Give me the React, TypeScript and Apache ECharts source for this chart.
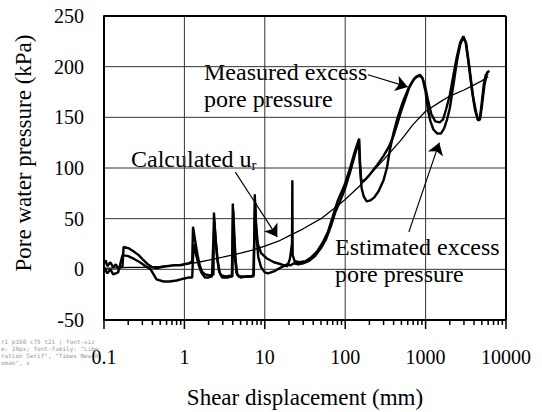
import React, { useEffect, useRef } from 'react';
import * as echarts from 'echarts';

const FONT = 'Liberation Serif, Times New Roman, serif';

// Plot area (pixels) and axis ranges
const GRID = { left: 104, top: 16, width: 402, height: 304 };
const X_MIN = 0.1;
const X_MAX = 10000;
const Y_MIN = -50;
const Y_MAX = 250;

const xTickLabels = ['0.1', '1', '10', '100', '1000', '10000'];
const xTickValues = [0.1, 1, 10, 100, 1000, 10000];
const xMinorTickValues = [
  0.2, 0.3, 0.4, 0.5, 0.6, 0.7, 0.8, 0.9,
  2, 3, 4, 5, 6, 7, 8, 9,
  20, 30, 40, 50, 60, 70, 80, 90,
  200, 300, 400, 500, 600, 700, 800, 900,
  2000, 3000, 4000, 5000, 6000, 7000, 8000, 9000,
];
const yTickValues = [-50, 0, 50, 100, 150, 200, 250];
const yMinorTickValues = [-25, 25, 75, 125, 175, 225];

// Measured excess pore pressure [shear displacement (mm), kPa]
const measured: number[][] = [
  [0.1, 6], [0.105, 9], [0.11, 3], [0.12, 7], [0.13, 2], [0.14, 5], [0.15, 1], [0.17, 3],
  [0.175, 22], [0.2, 21], [0.23, 18], [0.27, 14], [0.31, 9], [0.35, 5], [0.4, 2], [0.45, 1],
  [0.5, 2], [0.6, 3], [0.75, 4], [0.9, 4], [1.0, 5], [1.15, 6], [1.25, 8],
  [1.28, 42], [1.35, 30], [1.45, 15], [1.55, 4], [1.65, -2], [1.8, -5], [2.1, -6], [2.3, -5],
  [2.33, 56], [2.42, 35], [2.55, 12], [2.7, -2], [2.85, -6], [3.3, -7], [3.9, -6],
  [4.0, 65], [4.12, 38], [4.25, 12], [4.45, -4], [4.7, -7], [5.5, -7], [6.5, -7], [7.3, -6],
  [7.5, 74], [7.75, 45], [8.2, 25], [9, 16], [10.5, 11], [13, 7], [16, 5], [19, 3],
  [20.5, 10], [21.5, 22], [21.8, 25], [22, 88], [22.2, 14], [23.5, 8], [27, 7], [32, 8],
  [38, 12], [45, 18], [53, 27], [61, 37], [70, 52], [81, 68], [92, 78], [100, 85],
  [115, 100], [130, 115], [149, 129], [153, 105], [158, 88], [170, 87], [200, 93],
  [250, 103], [300, 112], [350, 121], [400, 132], [450, 145], [500, 157], [560, 168],
  [630, 180], [720, 188], [820, 191], [900, 190], [980, 182], [1070, 167], [1180, 153],
  [1320, 146], [1500, 145], [1650, 148], [1800, 158], [2000, 172], [2200, 190], [2450, 210],
  [2700, 224], [2950, 230], [3150, 224], [3400, 205], [3750, 178], [4100, 158], [4450, 148],
  [4750, 150], [5000, 165], [5300, 183], [5600, 192], [6000, 193],
];

// Estimated excess pore pressure
const estimated: number[][] = [
  [0.1, 2], [0.11, -4], [0.12, 0], [0.13, -5], [0.15, -3], [0.17, 14], [0.2, 13], [0.24, 10],
  [0.28, 7], [0.33, 3], [0.38, 0], [0.4, -3], [0.45, -10], [0.55, -12], [0.65, -12],
  [0.8, -11], [1.0, -9], [1.15, -8], [1.25, -8],
  [1.3, 25], [1.4, 14], [1.5, 5], [1.62, -3], [1.8, -8], [2.0, -8], [2.2, -7],
  [2.35, 48], [2.45, 28], [2.6, 8], [2.75, -3], [2.95, -8], [3.5, -8], [3.95, -7],
  [4.05, 58], [4.2, 30], [4.35, 8], [4.55, -5], [5, -8], [6, -7], [7.2, -7],
  [7.6, 66], [7.9, 32], [8.3, 12], [9, 2], [10, -3], [11, -4], [13, -2], [16, 2], [19, 5],
  [21, 4], [23, 6], [26, 5], [30, 6], [35, 8], [42, 13], [50, 21], [58, 30], [66, 42],
  [75, 56], [85, 66], [100, 80], [115, 96], [132, 113], [148, 127], [153, 100], [160, 80],
  [170, 72], [185, 67], [205, 68], [230, 71], [260, 77], [300, 88], [330, 100], [360, 118],
  [400, 135], [450, 150], [520, 165], [600, 177], [680, 185], [760, 190], [850, 192],
  [920, 188], [1000, 175], [1070, 157], [1150, 146], [1250, 138], [1400, 134], [1550, 134],
  [1700, 139], [1850, 148], [2000, 159], [2200, 180], [2450, 205], [2700, 222], [2950, 229],
  [3200, 223], [3500, 200], [3900, 170], [4250, 155], [4500, 147], [4750, 148], [5000, 160],
  [5400, 182], [5800, 194], [6200, 196],
];

// Calculated u_r
const calculated: number[][] = [
  [0.1, 1], [0.2, 2], [0.3, 2], [0.5, 3], [0.7, 4], [1, 5], [1.5, 7], [2, 9], [3, 12],
  [5, 16], [7, 19], [10, 23], [15, 28], [20, 33], [30, 40], [50, 50], [70, 59], [100, 69],
  [150, 82], [200, 93], [300, 108], [500, 128], [700, 143], [1000, 156], [1500, 165],
  [2000, 171], [3000, 177], [4000, 182], [5000, 186], [6000, 190],
];

// Annotation arrows: [from], [to] in data coordinates
const arrowMeasured = [[192, 192], [600, 180]];
const arrowCalculated = [[4.3, 96], [14.3, 32]];
const arrowEstimated = [[620, 37], [1480, 125]];

// Tick lengths in pixels, converted to axis units so they go through the axes' scales
const Y_PER_PX = (Y_MAX - Y_MIN) / GRID.height;
const DEC_PER_PX = Math.log10(X_MAX / X_MIN) / GRID.width;
const xTickEnd = (px: number) => Y_MIN - px * Y_PER_PX;
const yTickEnd = (px: number) => X_MIN * Math.pow(10, -px * DEC_PER_PX);

type Seg = { a: number[]; b: number[]; color: string; width: number; z: number; clip: boolean };

function buildFrame(): Seg[] {
  const segs: Seg[] = [];
  xTickValues.slice(1, -1).forEach((v) =>
    segs.push({ a: [v, Y_MIN], b: [v, Y_MAX], color: '#333333', width: 1, z: 1, clip: true }));
  yTickValues.slice(1, -1).forEach((v) =>
    segs.push({ a: [X_MIN, v], b: [X_MAX, v], color: '#333333', width: 1, z: 1, clip: true }));
  const corners = [[X_MIN, Y_MIN], [X_MAX, Y_MIN], [X_MAX, Y_MAX], [X_MIN, Y_MAX], [X_MIN, Y_MIN]];
  for (let i = 0; i < 4; i++) {
    segs.push({ a: corners[i], b: corners[i + 1], color: '#000000', width: 2, z: 5, clip: false });
  }
  xTickValues.forEach((v) =>
    segs.push({ a: [v, Y_MIN], b: [v, xTickEnd(9)], color: '#000000', width: 1.5, z: 5, clip: false }));
  xMinorTickValues.forEach((v) =>
    segs.push({ a: [v, Y_MIN], b: [v, xTickEnd(5)], color: '#000000', width: 1.5, z: 5, clip: false }));
  yTickValues.concat(yMinorTickValues).forEach((v) =>
    segs.push({ a: [X_MIN, v], b: [yTickEnd(6), v], color: '#000000', width: 1.5, z: 5, clip: false }));
  return segs;
}

export default function App() {
  const ref = useRef<HTMLDivElement>(null);
  const diagRef = useRef<HTMLDivElement>(null);

  useEffect(() => {
    if (!ref.current) return;
    const chart = echarts.init(ref.current, undefined, { renderer: 'svg' });
    const painter: any = (chart.getZr() as any).painter;
    let refreshCount = 0;
    if (painter && painter.refresh) {
      const orig = painter.refresh.bind(painter);
      painter.refresh = (...args: any[]) => { refreshCount++; return orig(...args); };
    }
    const arrowLine = (a: number[][]) => [{ coord: a[0] }, { coord: a[1] }];

    const frameSeries = buildFrame().map((s, i) => ({
      name: 'frame ' + i,
      type: 'line',
      data: [s.a, s.b],
      showSymbol: false,
      symbol: 'none',
      clip: s.clip,
      lineStyle: { color: s.color, width: s.width },
      z: s.z,
    }));

    const option: any = {
      animation: false,
      textStyle: { fontFamily: FONT },
      grid: { ...GRID, show: false },
      xAxis: {
        type: 'log',
        min: X_MIN,
        max: X_MAX,
        axisLine: { show: false, onZero: false },
        axisTick: { show: false },
        splitLine: { show: false },
        axisLabel: {
          color: '#000', fontFamily: FONT, fontSize: 20, margin: 27,
          formatter: (v: number) => xTickLabels[Math.round(Math.log10(v)) + 1] ?? '',
        },
      },
      yAxis: {
        type: 'value',
        min: Y_MIN,
        max: Y_MAX,
        interval: 50,
        axisLine: { show: false, onZero: false },
        axisTick: { show: false },
        splitLine: { show: false },
        axisLabel: { color: '#000', fontFamily: FONT, fontSize: 20, margin: 20 },
      },
      series: [
        ...frameSeries,
        {
          name: 'Estimated excess pore pressure',
          type: 'line',
          data: estimated,
          showSymbol: false,
          lineStyle: { color: '#000', width: 2.4 },
          z: 3,
        },
        {
          name: 'Measured excess pore pressure',
          type: 'line',
          data: measured,
          showSymbol: false,
          lineStyle: { color: '#000', width: 2.4 },
          z: 3,
        },
        {
          name: 'Calculated u_r',
          type: 'line',
          data: calculated,
          showSymbol: false,
          lineStyle: { color: '#000', width: 1.3 },
          z: 4,
          markLine: {
            silent: true,
            symbol: ['none', 'arrow'],
            symbolSize: 12,
            lineStyle: { color: '#000', width: 1.2, type: 'solid' },
            label: { show: false },
            emphasis: { disabled: true },
            data: [arrowLine(arrowMeasured), arrowLine(arrowCalculated), arrowLine(arrowEstimated)],
          },
        },
      ],
      graphic: [
        {
          type: 'text', x: 204, y: 58,
          style: {
            text: 'Measured excess\npore pressure', fill: '#000',
            fontFamily: FONT, fontSize: 24, lineHeight: 27, align: 'left', verticalAlign: 'top',
          },
        },
        {
          type: 'text', x: 335, y: 233,
          style: {
            text: 'Estimated excess\npore pressure', fill: '#000',
            fontFamily: FONT, fontSize: 24, lineHeight: 27, align: 'left', verticalAlign: 'top',
          },
        },
        {
          type: 'text', x: 131, y: 145,
          style: {
            text: 'Calculated u{sub|r}', fill: '#000',
            fontFamily: FONT, fontSize: 24, lineHeight: 27, align: 'left', verticalAlign: 'top',
            rich: {
              sub: { fontFamily: FONT, fontSize: 15, lineHeight: 15, verticalAlign: 'bottom', fill: '#000' },
            },
          },
        },
        {
          type: 'text', x: 305, y: 397,
          style: {
            text: 'Shear displacement (mm)', fill: '#000',
            fontFamily: FONT, fontSize: 23, align: 'center', verticalAlign: 'middle',
          },
        },
        {
          type: 'text', x: 23, y: 153, rotation: Math.PI / 2,
          style: {
            text: 'Pore water pressure (kPa)', fill: '#000',
            fontFamily: FONT, fontSize: 23, align: 'center', verticalAlign: 'middle',
          },
        },
      ],
    };

    chart.setOption(option);

    const t = setTimeout(() => {
      const svg = ref.current?.querySelector('svg');
      if (!svg || !diagRef.current) return;
      const texts = Array.from(svg.querySelectorAll('text'));
      const lab = texts.find((x) => x.textContent === '250');
      const paths = svg.querySelectorAll('path').length;
      const clipG = svg.querySelectorAll('[clip-path]').length;
      diagRef.current.textContent =
        'r' + refreshCount + ' p' + paths + ' c' + clipG + ' t' + texts.length + ' | ' +
        (lab ? (lab.getAttribute('style') || '').slice(0, 70) : 'nolab');
    }, 300);

    return () => { clearTimeout(t); chart.dispose(); };
  }, []);

  return (
    <div style={{ position: 'fixed', left: 0, top: 0, width: 542, height: 412, background: '#fff' }}>
      <div ref={ref} style={{ width: 542, height: 412 }} />
      <div
        ref={diagRef}
        style={{ position: 'absolute', left: 1, top: 338, width: 100, fontSize: 6, lineHeight: '7px', color: '#999', fontFamily: 'monospace', wordBreak: 'break-all' }}
      />
    </div>
  );
}
